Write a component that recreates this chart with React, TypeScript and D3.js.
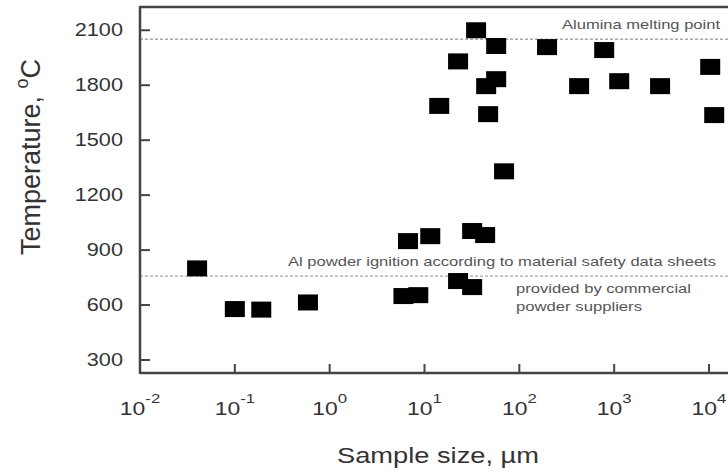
import React from "react";
import * as d3 from "d3";

// sample size (µm) and ignition temperature (°C)
const sizes = [
  0.04, 0.1, 0.19, 0.59, 6.0, 8.6, 6.7, 11.5, 31.8, 43.6, 22.6, 31.8, 69, 14.3,
  22.6, 35, 57, 57, 44.7, 46.9, 196, 785, 427, 1130, 3050, 10300, 11350,
];
const temps = [
  800, 578, 575, 614, 649, 654, 949, 976, 1004, 982, 731, 698, 1330, 1687,
  1930, 2100, 2014, 1833, 1795, 1642, 2008, 1992, 1795, 1822, 1795, 1900, 1637,
];
const yTicks = [300, 600, 900, 1200, 1500, 1800, 2100];
const xExponents = [-2, -1, 0, 1, 2, 3, 4];
const aluminaMelt = 2051;
const alIgnition = 758;

const W = 728;
const H = 473;
const font = "'Liberation Sans', Arial, sans-serif";
const stretch = 1.24; // the figure's text is drawn wider than normal

export default function App() {
  const x = d3.scaleLog().domain([1e-2, 1e4]).range([140, 709]);
  const y = d3.scaleLinear().domain([229, 2227]).range([373, 7]);
  const [left, right] = [x(1e-2), W];
  const [bottom, top] = y.range();

  const sq = { w: 20, h: 16 };
  // annotation text, pinned to the width it has in the figure
  const note = (label: string, tx: number, ty: number, len: number, anchor = "start") => (
    <text x={tx} y={ty} textAnchor={anchor} fontSize={13.5} fill="#555"
      textLength={len} lengthAdjust="spacingAndGlyphs">{label}</text>
  );

  return (
    <svg
      width={W}
      height={H}
      style={{ position: "absolute", left: 0, top: 0, background: "#fff" }}
      fontFamily={font}
    >
      {/* reference lines */}
      <line x1={left} x2={right} y1={y(aluminaMelt)} y2={y(aluminaMelt)}
        stroke="#a8a8a8" strokeWidth={1.3} strokeDasharray="3,2" />
      <line x1={left} x2={right} y1={y(alIgnition)} y2={y(alIgnition)}
        stroke="#a8a8a8" strokeWidth={1.3} strokeDasharray="3,2" />

      {note("Alumina melting point", 720, y(aluminaMelt) - 10, 158, "end")}
      {note("Al powder ignition according to material safety data sheets", 288, y(alIgnition) - 10, 428)}
      {note("provided by commercial", 516, y(alIgnition) + 17, 175)}
      {note("powder suppliers", 516, y(alIgnition) + 35, 126)}

      {/* points */}
      {sizes.map((s, i) => (
        <rect key={i} x={x(s) - sq.w / 2} y={y(temps[i]) - sq.h / 2}
          width={sq.w} height={sq.h} fill="#000" />
      ))}

      {/* frame */}
      <line x1={left} x2={right} y1={top} y2={top} stroke="#444" strokeWidth={2.5} />
      <line x1={left} x2={left} y1={top - 1} y2={bottom + 1} stroke="#444" strokeWidth={2.5} />
      <line x1={left} x2={right} y1={bottom} y2={bottom} stroke="#444" strokeWidth={2.5} />

      {/* y ticks */}
      {yTicks.map((t) => (
        <g key={t}>
          <line x1={left} x2={left + 10} y1={y(t)} y2={y(t)} stroke="#444" strokeWidth={2} />
          <text transform={`translate(123,${y(t) + 6}) scale(${stretch},1)`}
            textAnchor="end" fontSize={17.5} fill="#333">{t}</text>
        </g>
      ))}

      {/* x ticks */}
      {xExponents.map((e) => (
        <g key={e}>
          <line x1={x(10 ** e)} x2={x(10 ** e)} y1={bottom} y2={bottom - 9}
            stroke="#444" strokeWidth={2} />
          <text transform={`translate(${x(10 ** e)},415) scale(${stretch},1)`}
            textAnchor="middle" fontSize={18.5} fill="#333">
            10<tspan dy={-12} fontSize={13.5}>{e}</tspan>
          </text>
        </g>
      ))}

      {/* axis titles */}
      <text transform={`translate(438,463) scale(${stretch},1)`}
        textAnchor="middle" fontSize={22} fill="#333">Sample size, µm</text>
      <text transform="translate(40,157) rotate(-90)" textAnchor="middle"
        fontSize={27} fill="#333">
        Temperature, <tspan dy={-12} fontSize={18}>o</tspan>
        <tspan dy={12}>C</tspan>
      </text>
    </svg>
  );
}
